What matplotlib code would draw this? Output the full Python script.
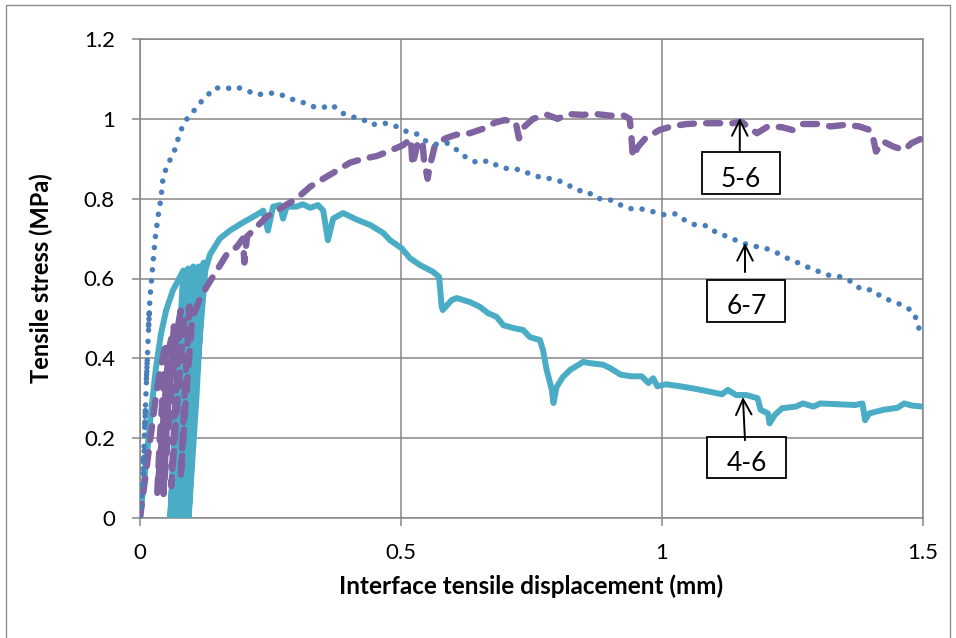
import matplotlib
matplotlib.use('Agg')
from matplotlib import pyplot as plt
from matplotlib.patches import Rectangle


# specimen 4-6 (solid), cyclic loading at start
x_46 = [0, 0.01, 0.02, 0.03, 0.04, 0.05, 0.063, 0.075, 0.083, 0.07, 0.058, 0.07, 0.085, 0.092,
        0.08, 0.065, 0.078, 0.095, 0.102, 0.09, 0.075, 0.088, 0.105, 0.112, 0.1, 0.085, 0.097,
        0.115, 0.122, 0.108, 0.093, 0.105, 0.125, 0.134, 0.153, 0.172, 0.197, 0.224, 0.236,
        0.245, 0.255, 0.268, 0.274, 0.281, 0.30, 0.312, 0.326, 0.341, 0.351, 0.36, 0.37, 0.389,
        0.416, 0.441, 0.466, 0.479, 0.501, 0.517, 0.536, 0.561, 0.573, 0.578, 0.58, 0.597,
        0.607, 0.632, 0.651, 0.667, 0.683, 0.696, 0.715, 0.734, 0.747, 0.766, 0.772, 0.779,
        0.789, 0.792, 0.798, 0.81, 0.824, 0.849, 0.862, 0.887, 0.9, 0.921, 0.941, 0.961,
        0.974, 0.983, 0.991, 1.008, 1.035, 1.062, 1.089, 1.115, 1.126, 1.142, 1.162, 1.183,
        1.189, 1.203, 1.206, 1.216, 1.23, 1.256, 1.27, 1.29, 1.303, 1.337, 1.37, 1.384, 1.387,
        1.389, 1.397, 1.424, 1.451, 1.464, 1.478, 1.498]
y_46 = [0, 0.12, 0.25, 0.37, 0.46, 0.52, 0.57, 0.6, 0.62, 0.3, 0.0, 0.3, 0.58, 0.625,
        0.3, 0.0, 0.3, 0.6, 0.63, 0.3, 0.0, 0.3, 0.6, 0.63, 0.3, 0.0, 0.3,
        0.6, 0.64, 0.3, 0.0, 0.3, 0.62, 0.66, 0.70, 0.72, 0.74, 0.76, 0.77,
        0.72, 0.78, 0.784, 0.75, 0.78, 0.78, 0.786, 0.777, 0.784, 0.77, 0.696, 0.75, 0.764,
        0.747, 0.734, 0.714, 0.696, 0.676, 0.651, 0.634, 0.617, 0.604, 0.529, 0.521, 0.546,
        0.551, 0.541, 0.529, 0.513, 0.504, 0.483, 0.476, 0.471, 0.453, 0.446, 0.421, 0.371,
        0.321, 0.288, 0.328, 0.353, 0.371, 0.391, 0.388, 0.384, 0.376, 0.359, 0.355, 0.355,
        0.338, 0.35, 0.33, 0.335, 0.33, 0.324, 0.317, 0.31, 0.321, 0.308, 0.308, 0.30,
        0.271, 0.262, 0.237, 0.258, 0.275, 0.279, 0.287, 0.279, 0.287, 0.285, 0.283, 0.287, 0.262,
        0.245, 0.262, 0.271, 0.276, 0.287, 0.282, 0.279]

# specimen 5-6 (dashed)
x_56 = [0, 0.01, 0.02, 0.03, 0.04, 0.05, 0.038, 0.033, 0.045, 0.055, 0.065, 0.052, 0.045,
        0.058, 0.07, 0.078, 0.068, 0.06, 0.072, 0.085, 0.095, 0.085, 0.078, 0.088, 0.1, 0.115,
        0.128, 0.147, 0.166, 0.186, 0.197, 0.2, 0.205, 0.224, 0.243, 0.262, 0.287, 0.30, 0.326,
        0.351, 0.377, 0.402, 0.428, 0.454, 0.479, 0.504, 0.519, 0.522, 0.532, 0.541, 0.544,
        0.551, 0.555, 0.565, 0.585, 0.605, 0.632, 0.659, 0.679, 0.699, 0.713, 0.72, 0.726,
        0.736, 0.753, 0.78, 0.8, 0.82, 0.847, 0.874, 0.9, 0.927, 0.938, 0.941, 0.944, 0.954,
        0.968, 0.995, 1.021, 1.048, 1.075, 1.102, 1.136, 1.152, 1.169, 1.182, 1.203, 1.23,
        1.25, 1.27, 1.297, 1.324, 1.351, 1.378, 1.398, 1.404, 1.41, 1.424, 1.444, 1.464,
        1.478, 1.498]
y_56 = [0, 0.1, 0.2, 0.3, 0.38, 0.44, 0.2, 0.06, 0.25, 0.42, 0.48, 0.25, 0.06,
        0.28, 0.46, 0.52, 0.3, 0.08, 0.3, 0.5, 0.53, 0.3, 0.1, 0.3, 0.5, 0.55,
        0.58, 0.62, 0.66, 0.68, 0.70, 0.64, 0.705, 0.73, 0.755, 0.77, 0.79, 0.80, 0.83,
        0.85, 0.87, 0.89, 0.90, 0.907, 0.92, 0.934, 0.95, 0.884, 0.939, 0.945, 0.897,
        0.85, 0.88, 0.934, 0.951, 0.96, 0.964, 0.976, 0.99, 0.997, 0.993, 0.99, 0.951,
        0.98, 1.0, 1.01, 1.0, 1.012, 1.01, 1.012, 1.008, 1.008, 1.0, 0.965, 0.905, 0.93,
        0.951, 0.972, 0.982, 0.987, 0.989, 0.989, 0.989, 0.993, 0.976, 0.964, 0.981, 0.979,
        0.972, 0.987, 0.987, 0.981, 0.985, 0.981, 0.972, 0.955, 0.918, 0.943, 0.93, 0.922,
        0.939, 0.951]

# specimen 6-7 (dotted)
x_67 = [0, 0.003, 0.006, 0.008, 0.006, 0.009, 0.0105, 0.009, 0.012, 0.014, 0.012, 0.016,
        0.018, 0.016, 0.019, 0.023, 0.029, 0.034, 0.040, 0.044, 0.051, 0.055, 0.062, 0.066,
        0.073, 0.081, 0.090, 0.103, 0.115, 0.130, 0.144, 0.163, 0.184, 0.203, 0.224, 0.247,
        0.268, 0.287, 0.306, 0.326, 0.347, 0.368, 0.386, 0.406, 0.425, 0.444, 0.464, 0.485,
        0.506, 0.528, 0.547, 0.568, 0.589, 0.607, 0.625, 0.646, 0.668, 0.688, 0.708, 0.729,
        0.751, 0.773, 0.795, 0.818, 0.837, 0.857, 0.875, 0.896, 0.916, 0.936, 0.958, 0.981,
        1.003, 1.026, 1.045, 1.064, 1.087, 1.105, 1.126, 1.148, 1.169, 1.193, 1.215, 1.236,
        1.256, 1.278, 1.299, 1.32, 1.343, 1.363, 1.381, 1.404, 1.422, 1.444, 1.464, 1.482,
        1.49, 1.496]
y_67 = [0, 0.05, 0.10, 0.17, 0.12, 0.22, 0.28, 0.22, 0.33, 0.40, 0.34, 0.46,
        0.52, 0.47, 0.55, 0.61, 0.70, 0.75, 0.80, 0.85, 0.88, 0.89, 0.91, 0.92,
        0.95, 0.98, 1.0, 1.02, 1.04, 1.06, 1.078, 1.075, 1.08, 1.072, 1.06, 1.065,
        1.062, 1.05, 1.045, 1.032, 1.027, 1.035, 1.015, 1.005, 1.0, 0.985, 0.99, 0.985,
        0.97, 0.964, 0.945, 0.936, 0.939, 0.922, 0.903, 0.89, 0.895, 0.88, 0.874, 0.873,
        0.859, 0.852, 0.849, 0.836, 0.821, 0.818, 0.80, 0.80, 0.787, 0.775, 0.775, 0.768,
        0.76, 0.762, 0.745, 0.734, 0.732, 0.714, 0.705, 0.692, 0.682, 0.678, 0.668, 0.653,
        0.642, 0.629, 0.618, 0.608, 0.604, 0.592, 0.573, 0.571, 0.552, 0.542, 0.531, 0.516,
        0.487, 0.455]

# callouts: label, arrow tip, arrow base, box (x0, x1, y0, y1)
callouts = [
    ('5-6', (1.149, 1.002), (1.149, 0.917), (1.076, 1.226, 0.811, 0.916)),
    ('6-7', (1.159, 0.689), (1.159, 0.616), (1.087, 1.236, 0.492, 0.596)),
    ('4-6', (1.155, 0.303), (1.159, 0.195), (1.087, 1.237, 0.099, 0.204)),
]

GRID = '#878787'
FONT = 'Lato'

fig = plt.figure(figsize=(9.56, 6.38), dpi=100)
ax = fig.add_axes([140 / 956, 1 - 518 / 638, 783 / 956, 479 / 638])

ax.plot(x_46, y_46, color='#4BACC6', lw=4.3, solid_joinstyle='round', solid_capstyle='round', zorder=3)
ax.plot(x_56, y_56, color='#8064A2', lw=4.6, linestyle=(0, (2.2, 1.9)),
        dash_capstyle='round', dash_joinstyle='round', zorder=4)
ax.plot(x_67, y_67, color='#4A7EBB', lw=4.0, linestyle=(0, (0.01, 2.0)),
        dash_capstyle='round', zorder=5)

ax.set_xlim(0, 1.5)
ax.set_ylim(0, 1.2)
ax.set_xticks([0, 0.5, 1, 1.5])
ax.set_yticks([0, 0.2, 0.4, 0.6, 0.8, 1.0, 1.2])
ax.set_xticklabels(['0', '0.5', '1', '1.5'])
ax.set_yticklabels(['0', '0.2', '0.4', '0.6', '0.8', '1', '1.2'])
ax.grid(True, color=GRID, lw=1.1, zorder=0)
ax.set_axisbelow(True)
for s in ax.spines.values():
    s.set_color(GRID)
    s.set_linewidth(1.1)
ax.tick_params(direction='out', length=6, width=1.1, color=GRID, labelsize=16, pad=12)
for lab in ax.get_xticklabels() + ax.get_yticklabels():
    lab.set_family(FONT)

ax.set_xlabel('Interface tensile displacement (mm)', fontsize=17.5, fontweight='bold',
              family=FONT, labelpad=8)
ax.set_ylabel('Tensile stress (MPa)', fontsize=17, fontweight='bold', family=FONT, labelpad=22)

for label, tip, base, box in callouts:
    x0, x1, y0, y1 = box
    ax.add_patch(Rectangle((x0, y0), x1 - x0, y1 - y0, facecolor='white', edgecolor='black',
                           lw=1.3, zorder=6))
    ax.text((x0 + x1) / 2, y0 + (y1 - y0) * 0.36, label, ha='center', va='center',
            fontsize=19, family=FONT, zorder=7)
    ax.annotate('', xy=tip, xytext=base,
                arrowprops=dict(arrowstyle='->', color='black', lw=1.4,
                                shrinkA=0, shrinkB=0, mutation_scale=28), zorder=7)

# chart area border
fig.patches.append(Rectangle((6 / 956, -0.02), 944 / 956, 1.02 - 5 / 638, transform=fig.transFigure,
                             facecolor='none', edgecolor='#8c8c8c', lw=1.0))

fig.savefig('out.png', dpi=100)
